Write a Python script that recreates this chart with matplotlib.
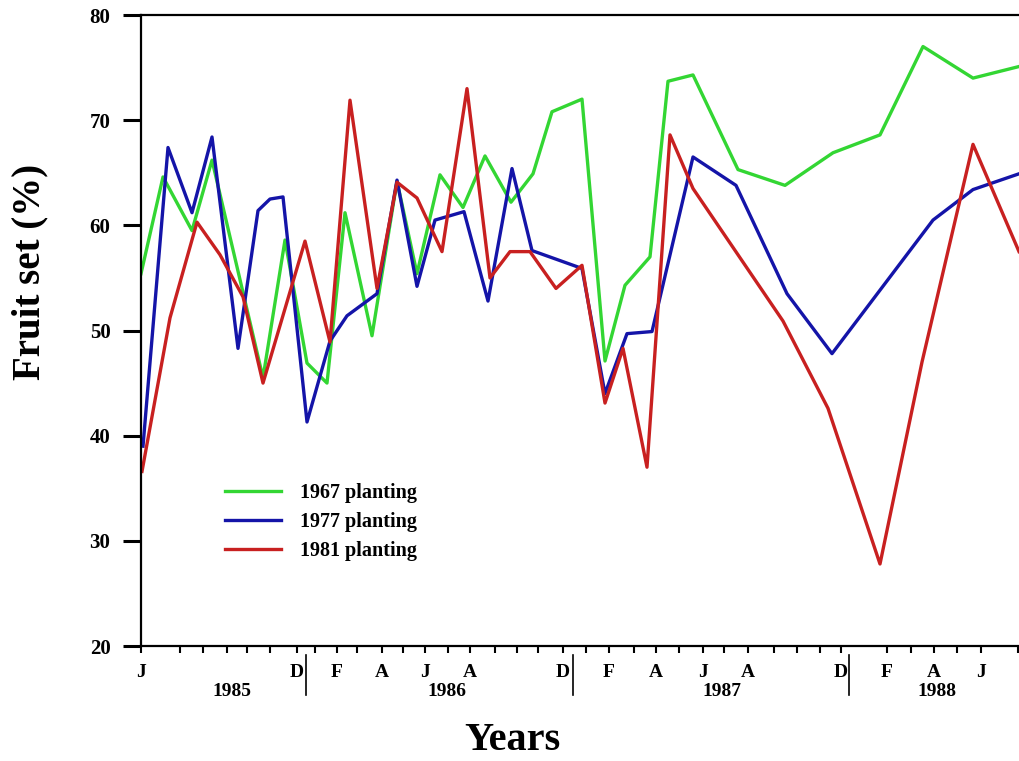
import matplotlib.pyplot as plt
from matplotlib.lines import Line2D
import matplotlib.transforms as mtransforms

# sampling positions along the time axis (axis units, J 1985 = 0) and fruit set (%)
x_1967 = [0, 22, 51, 71, 122, 144, 166, 186, 204, 231, 256, 276, 299, 322, 344, 370,
          392, 411, 441, 464, 484, 509, 527, 552, 597, 644, 692, 739, 782, 832, 878]
fs_1967 = [55.4, 64.6, 59.5, 66.2, 45.5, 58.6, 46.9, 45.0, 61.2, 49.5, 64.2, 55.4, 64.8, 61.7,
           66.6, 62.2, 64.9, 70.8, 72.0, 47.1, 54.3, 57.0, 73.7, 74.3, 65.3, 63.8, 66.9,
           68.6, 77.0, 74.0, 75.1]

x_1977 = [2, 27, 51, 71, 97, 117, 129, 142, 166, 189, 206, 236, 256, 276, 294, 323,
          347, 371, 391, 441, 464, 486, 511, 552, 595, 646, 691, 792, 832, 878]
fs_1977 = [39.0, 67.4, 61.2, 68.4, 48.3, 61.4, 62.5, 62.7, 41.3, 49.0, 51.4, 53.5, 64.3,
           54.2, 60.5, 61.3, 52.8, 65.4, 57.6, 55.9, 44.0, 49.7, 49.9, 66.5, 63.8, 53.5,
           47.8, 60.5, 63.4, 64.9]

x_1981 = [1, 29, 56, 79, 102, 122, 164, 189, 209, 236, 256, 276, 301, 326, 349, 369,
          389, 415, 441, 464, 482, 506, 529, 552, 642, 687, 739, 781, 832, 878]
fs_1981 = [36.6, 51.2, 60.3, 57.2, 53.2, 45.0, 58.5, 48.9, 71.9, 54.0, 64.1, 62.6, 57.5,
           73.0, 55.0, 57.5, 57.5, 54.0, 56.2, 43.1, 48.3, 37.0, 68.6, 63.5, 50.9, 42.6,
           27.8, 47.0, 67.7, 57.5]

# axis ticks, month letters, year labels and year separators
tick_pos = [0, 39, 62, 86, 106, 129, 156, 174, 196, 216, 241, 262, 284, 307, 329, 354, 376,
            397, 422, 445, 468, 493, 515, 538, 562, 583, 607, 633, 656, 679, 700, 746, 770,
            793, 816, 840, 877]
month_labels = {0: 'J', 156: 'D', 196: 'F', 241: 'A', 284: 'J', 329: 'A', 422: 'D', 468: 'F',
                515: 'A', 562: 'J', 607: 'A', 700: 'D', 746: 'F', 793: 'A', 840: 'J'}
years = ['1985', '1986', '1987', '1988']
year_pos = [91, 306, 581, 796]
separators = [165, 432, 708]

plt.rcParams['font.family'] = ['Liberation Serif', 'DejaVu Serif']
plt.rcParams['font.weight'] = 'bold'

fig = plt.figure(figsize=(10.19, 7.61), dpi=100)
ax = fig.add_axes([141 / 1019, 1 - 646 / 761, 1 - 141 / 1019, (646 - 15) / 761])

ax.plot(x_1967, fs_1967, color='#33d633', lw=2.4, label='1967 planting')
ax.plot(x_1977, fs_1977, color='#1414a8', lw=2.4, label='1977 planting')
ax.plot(x_1981, fs_1981, color='#c82020', lw=2.4, label='1981 planting')

ax.set_xlim(0, 878)
ax.set_ylim(20, 80)

ax.spines['right'].set_visible(False)
for s in ['left', 'top', 'bottom']:
    ax.spines[s].set_linewidth(1.6)

ax.set_yticks(range(20, 81, 10))
ax.tick_params(axis='y', direction='out', length=13, width=2.2, pad=9, labelsize=15)
ax.set_xticks(tick_pos, [month_labels.get(p, '') for p in tick_pos])
ax.tick_params(axis='x', direction='out', length=5, width=1.5, pad=8, labelsize=14)

trans = mtransforms.blended_transform_factory(ax.transData, fig.transFigure)
for yr, p in zip(years, year_pos):
    ax.text(p, 1 - 691 / 761, yr, transform=trans, ha='center', va='center',
            fontsize=14, fontweight='bold')
for p in separators:
    ax.add_line(Line2D([p, p], [1 - 655 / 761, 1 - 695 / 761], transform=trans,
                       color='black', lw=1.2, clip_on=False))

fig.text(512 / 1019, 1 - 740 / 761, 'Years', ha='center', va='center',
         fontsize=29, fontweight='bold')
fig.text(30 / 1019, 1 - 272 / 761, 'Fruit set (%)', ha='center', va='center',
         rotation=90, fontsize=28, fontweight='bold')

ax.legend(loc='upper left', bbox_to_anchor=(225 / 1019, 1 - 483 / 761),
          bbox_transform=fig.transFigure, frameon=False,
          handlelength=2.8, handletextpad=0.9, labelspacing=0.45, borderpad=0,
          borderaxespad=0, prop={'weight': 'bold', 'size': 14.5})

fig.savefig('out.png', dpi=100)
